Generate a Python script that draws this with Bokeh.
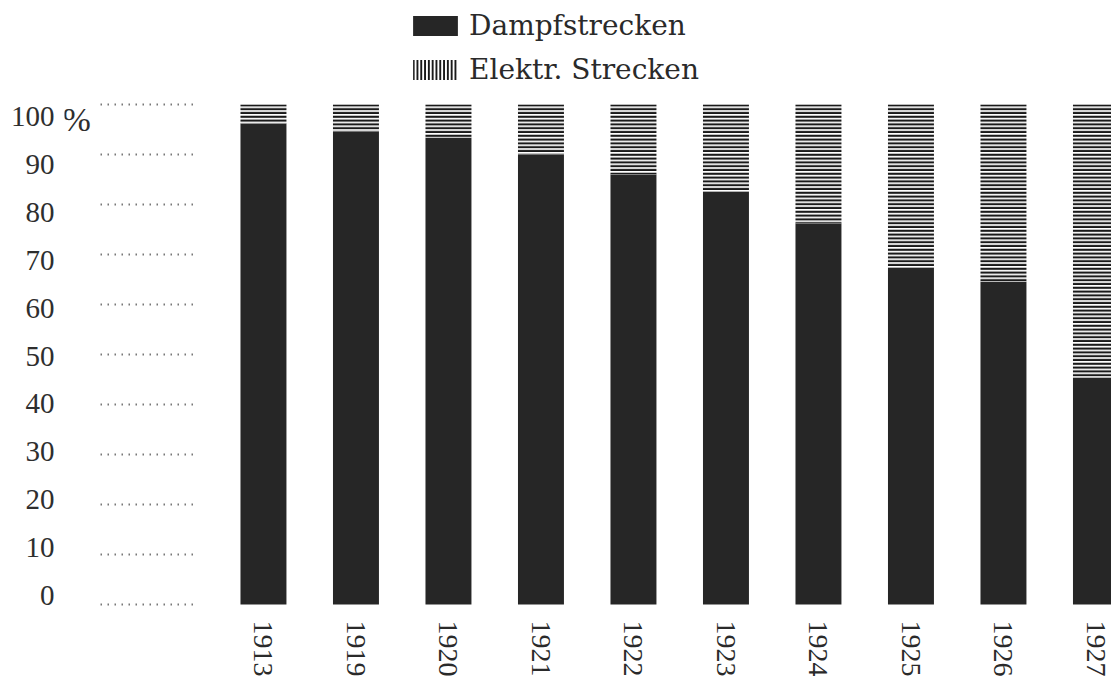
import math
from bokeh.plotting import figure
from bokeh.models import (Range1d, FixedTicker, LinearAxis, Legend, LegendItem,
                          Label)
from bokeh.core.properties import value
from bokeh.embed import file_html
from bokeh.resources import INLINE

# ---- data ----
years = ["1913", "1919", "1920", "1921", "1922", "1923", "1924", "1925", "1926", "1927"]
dampf = [96.2, 94.6, 93.4, 90.0, 86.0, 82.6, 76.2, 67.4, 64.6, 45.4]
elektr = [round(100 - d, 1) for d in dampf]
y_ticks = [0, 10, 20, 30, 40, 50, 60, 70, 80, 90, 100]
legend_labels = ["Dampfstrecken", "Elektr. Strecken"]

idx = list(range(len(years)))
top_total = [d + e for d, e in zip(dampf, elektr)]

SERIF = "Liberation Serif"
INK = "#262626"

p = figure(width=1111, height=677, output_backend="svg", toolbar_location=None,
           x_range=Range1d(-2.151, 9.168), y_range=Range1d(-14.6, 120.8),
           x_axis_location=None, y_axis_location=None,
           min_border_left=64, min_border_right=0, min_border_top=0,
           min_border_bottom=0)
p.outline_line_color = None
p.grid.visible = False
p.background_fill_color = "white"
p.border_fill_color = "white"

# y labels on their own (slightly differently spaced) scale, as in the print
p.extra_y_ranges = {"lab": Range1d(-17.12, 124.22)}
yax = LinearAxis(y_range_name="lab", ticker=FixedTicker(ticks=y_ticks))
yax.axis_line_color = None
yax.major_tick_line_color = None
yax.minor_tick_line_color = None
yax.major_label_standoff = 4
yax.major_label_text_font = SERIF
yax.major_label_text_font_size = "29px"
yax.major_label_text_color = "#2e2e2e"
p.add_layout(yax, "left")

# dotted guide lines next to the labels
p.segment(x0=[-1.76] * len(y_ticks), x1=[-0.76] * len(y_ticks),
          y0=y_ticks, y1=y_ticks, line_color="#333333", line_width=2,
          line_dash="1 6")

# bars
r_d = p.vbar(x=idx, width=0.497, bottom=0, top=dampf, fill_color=INK,
             line_color=None)
r_e = p.vbar(x=idx, width=0.497, bottom=dampf, top=top_total,
             fill_color="white", line_color=None,
             hatch_pattern="horizontal_line", hatch_color="#1a1a1a",
             hatch_scale=3.8, hatch_weight=2.4)
# legend swatch for electric lines (vertical stripes): zero-height bar
r_e_leg = p.vbar(x=idx[:1], width=0.497, bottom=[0], top=[0],
                 fill_color="white", line_color=None,
                 hatch_pattern="vertical_line", hatch_color="#1a1a1a",
                 hatch_scale=3.8, hatch_weight=2.0)

# year labels under the bars
p.text(x=idx, y=[0] * len(idx), text=years, angle=-math.pi / 2,
       y_offset=16, text_align="left", text_baseline="middle",
       text_font=value(SERIF), text_font_size="28px", text_color="#2a2a2a")

legend = Legend(items=[LegendItem(label=legend_labels[0], renderers=[r_d]),
                       LegendItem(label=legend_labels[1], renderers=[r_e_leg])],
                location=(343, 591), orientation="vertical",
                glyph_width=56, glyph_height=25, label_standoff=6,
                spacing=11, padding=0, margin=0,
                border_line_color=None, background_fill_alpha=0,
                label_text_font="DejaVu Serif", label_text_font_size="28px",
                label_text_color="#2a2a2a")
p.add_layout(legend)

pct = Label(x=p.x_range.start, y=100, y_range_name="lab", text="%",
            x_offset=-2, y_offset=-3, text_font=SERIF, text_font_size="34px",
            text_color="#2e2e2e", text_baseline="middle", text_align="left")
p.add_layout(pct)

open("out.html", "w").write(file_html(p, INLINE))
